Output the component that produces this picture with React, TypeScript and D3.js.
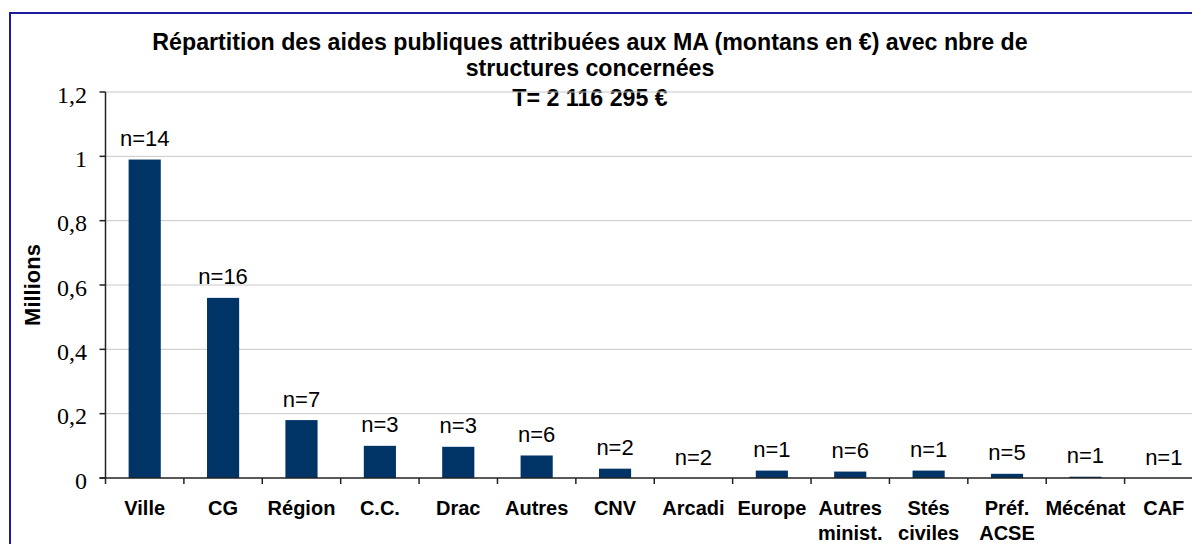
import React from 'react';
import * as d3 from 'd3';

// categories (label lines) and values in millions of euros
const categories = [
  ['Ville'], ['CG'], ['Région'], ['C.C.'], ['Drac'], ['Autres'], ['CNV'],
  ['Arcadi'], ['Europe'], ['Autres', 'minist.'], ['Stés', 'civiles'],
  ['Préf.', 'ACSE'], ['Mécénat'], ['CAF'],
];
const amounts = [0.99, 0.56, 0.18, 0.1, 0.097, 0.07, 0.029, 0, 0.023, 0.02, 0.023, 0.013, 0.004, 0];
const counts = [14, 16, 7, 3, 3, 6, 2, 2, 1, 6, 1, 5, 1, 1];
const yTicks = [0, 0.2, 0.4, 0.6, 0.8, 1, 1.2];
const titleLines = [
  'Répartition des aides publiques attribuées aux MA (montans en €) avec nbre de',
  'structures concernées',
  'T= 2 116 295 €',
];

const W = 1192;
const H = 544;
const margin = { left: 105.5, right: -11, top: 92, bottom: 66 };

const App = () => {
  const x = d3.scaleBand<number>()
    .domain(d3.range(categories.length))
    .range([margin.left, W - margin.right])
    .padding(0);
  const y = d3.scaleLinear()
    .domain([0, 1.2])
    .range([H - margin.bottom, margin.top]);

  const barW = x.bandwidth() * 0.41;
  const fmt = (v: number) => String(v).replace('.', ',');
  const sans = 'Arial, "Liberation Sans", sans-serif';

  return (
    <svg width={W} height={H} style={{ position: 'absolute', left: 0, top: 0, background: '#fff' }}>
      <rect x={10} y={13} width={W + 20} height={H + 20} fill="#fff" stroke="#1c1c9c" strokeWidth={2} />

      {titleLines.map((t, i) => (
        <text key={i} x={590} y={[50, 76, 106][i]} textAnchor="middle"
          fontFamily={sans} fontWeight="bold" fontSize={23.2}>{t}</text>
      ))}

      {yTicks.map(t => (
        <g key={t}>
          {t > 0 && (
            <line x1={margin.left} x2={W} y1={y(t)} y2={y(t)} stroke="#c8c8c8" strokeWidth={1} />
          )}
          <line x1={margin.left - 6} x2={margin.left} y1={y(t)} y2={y(t)} stroke="#222" strokeWidth={1.5} />
          <text x={87} y={y(t)} dy="0.45em" textAnchor="end"
            fontFamily='"Liberation Serif", "Times New Roman", serif' fontSize={24}>{fmt(t)}</text>
        </g>
      ))}

      <text transform={`translate(40,${(y(0) + y(1.2)) / 2}) rotate(-90)`} textAnchor="middle"
        fontFamily={sans} fontWeight="bold" fontSize={22}>Millions</text>

      {amounts.map((v, i) => {
        const cx = (x(i) as number) + x.bandwidth() / 2;
        return (
          <g key={i}>
            <rect x={cx - barW / 2} y={y(v)} width={barW} height={y(0) - y(v)} fill="#003366" />
            <text x={cx} y={y(v) - 13.5} textAnchor="middle" fontFamily={sans} fontSize={22}>
              {'n=' + counts[i]}
            </text>
          </g>
        );
      })}

      <line x1={margin.left} x2={margin.left} y1={y(1.2)} y2={y(0)} stroke="#222" strokeWidth={1.5} />
      <line x1={margin.left - 6} x2={W} y1={y(0)} y2={y(0)} stroke="#222" strokeWidth={1.5} />
      {d3.range(categories.length + 1).map(i => {
        const px = margin.left + i * x.step();
        return <line key={i} x1={px} x2={px} y1={y(0)} y2={y(0) + 6} stroke="#222" strokeWidth={1.5} />;
      })}

      {categories.map((lines, i) => {
        const cx = (x(i) as number) + x.bandwidth() / 2;
        return (
          <text key={i} x={cx} textAnchor="middle" fontFamily={sans} fontWeight="bold" fontSize={20}>
            {lines.map((l, j) => (
              <tspan key={j} x={cx} y={515 + j * 25}>{l}</tspan>
            ))}
          </text>
        );
      })}
    </svg>
  );
};

export default App;
